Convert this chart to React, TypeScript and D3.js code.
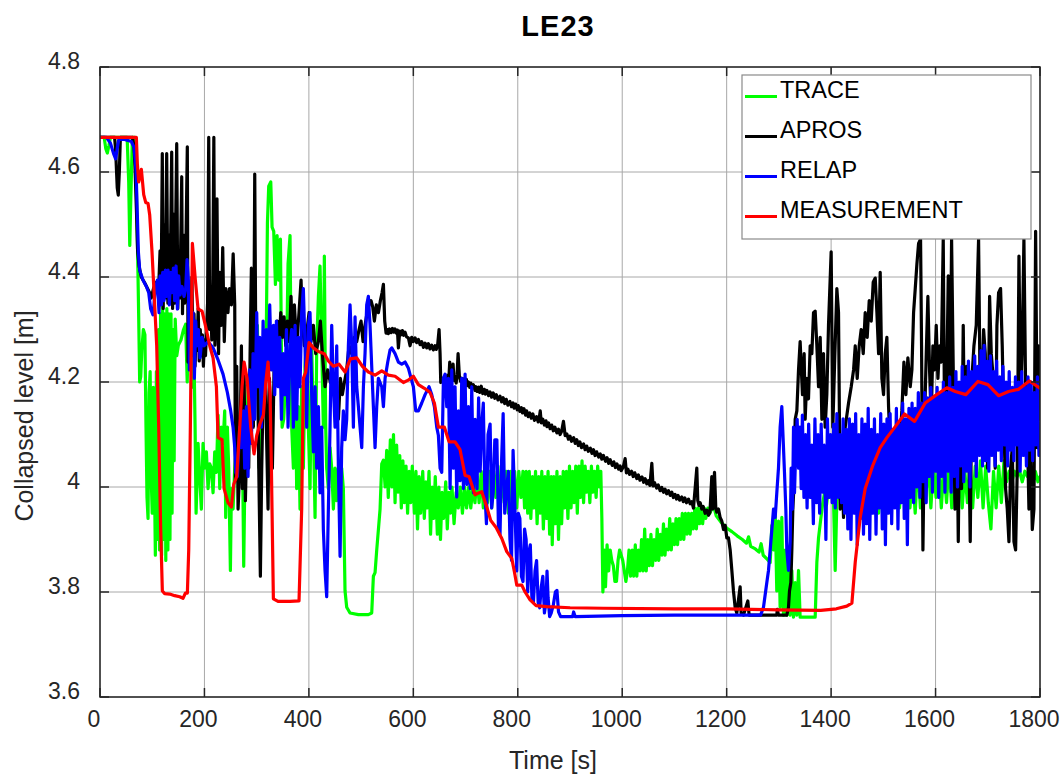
import React from 'react';
import * as d3 from 'd3';

type P = [number, number];

const W = 1062;
const H = 778;
const PLOT = { left: 100, right: 1040, top: 67, bottom: 697 };

const titleText = 'LE23';
const xLabelText = 'Time [s]';
const yLabelText = 'Collapsed level [m]';

const xDomain: [number, number] = [0, 1800];
const yDomain: [number, number] = [3.6, 4.8];
const xTicks = [0, 200, 400, 600, 800, 1000, 1200, 1400, 1600, 1800];
const xTickLabels = ['0', '200', '400', '600', '800', '1000', '1200', '1400', '1600', '1800'];
const yTicks = [3.6, 3.8, 4.0, 4.2, 4.4, 4.6, 4.8];
const yTickLabels = ['3.6', '3.8', '4', '4.2', '4.4', '4.6', '4.8'];

const seriesNames = ['TRACE', 'APROS', 'RELAP', 'MEASUREMENT'];
const seriesColors = ['#00ff00', '#000000', '#0000ff', '#ff0000'];

const trace: P[] = [
  [0,4.666],[8,4.666],[11,4.645],[14,4.636],[17,4.65],[20,4.666],[52,4.666],[55,4.58],[57,4.46],[59,4.55],[62,4.666],[67,4.666],[69,4.6],[72,4.45],[74,4.33],[76,4.2],[78,4.21],[80,4.26],[83,4.3],[86,4.29],[88,4.12],[90,3.98],[92,3.94],[94,4.18],[96,4.22],[98,4.02],[100,3.95],[102,4.19],[104,4.04],[106,3.87],[108,4.22],[110,3.9],[112,4.3],[114,3.88],[116,4.33],[118,3.87],[120,4.35],[122,3.9],[124,4.33],[126,3.86],[128,4.34],[130,3.88],[132,4.33],[134,3.9],[136,4.33],[138,3.95],[140,4.3],[142,4.05],[144,4.32],[147,4.25],[150,4.27],[155,4.28],[160,4.3],[164,4.31],[167,4.2],[170,4.31],[173,4.33],[176,4.19],[179,4.32],[182,4.12],[184,3.95],
  [187.8,4.083],[190.9,4.02],[194.1,3.958],[197.3,4.083],[200.5,4.036],[203.7,4.067],[206.9,3.997],[210.1,4.044],[213.3,4.036],[216.5,3.989],[219.7,4.067],[222.9,4.028],[226.1,4.137],[229.3,3.997],[232.4,4.114],[235.6,4.083],[238.8,4.145],[240.7,3.942],[243.9,4.114],[246.5,4.036],[249.7,3.841],[251.6,3.997],[254.8,3.958],[258,4.036],[261.2,4.075],[264.4,4.129],[269.5,4.036],[272,4.153],[275.2,3.849],[277.1,3.997],[280.3,4.075],[283.5,4.191],[286.7,4.114],[289.9,4.285],[293.1,4.269],[296.3,4.191],[301.4,4.308],[304.6,4.036],[309.1,4.176],[315.5,4.145],[318.6,4.308],[320.6,4.503],[323.1,4.573],[327,4.581],[329.5,4.495],[332.7,4.487],[335.9,4.386],[339.1,4.479],[342.3,4.394],[345.5,4.472],[348.7,4.114],[351.8,4.129],[355,4.191],[357.6,4.269],[360.1,4.425],[363.9,4.479],[367.1,4.114],[370.3,4.036],[373.5,4.269],[376.6,3.997],[379.8,4.153],[383,3.958],[386.2,4.191],[389.4,4.036],[392.6,4.23],[395.8,4.285],[399,4.114],[402.2,3.997],[405.4,4.269],[408.6,4.114],[411.8,3.942],[415,4.269],[418.2,4.363],[421.3,4.421],[424.5,4.269],[427.7,4.114],[429.6,4.44],[432.2,4.114],[434.1,4.036],[437.3,3.997],[440.5,4.075],[443.7,4.036],[446.9,3.958],[450.1,4.036],[453.3,3.974],[456.5,4.036],[459.7,3.958],[462.8,4.036],[466,3.997],[469.2,3.802],[472.4,3.771],[478.8,3.76],[494.8,3.757],[513.9,3.757],[520.3,3.76],[523.5,3.83],[526.7,3.837],[529.9,3.88],[533.1,3.919],[536.3,3.958],[539.5,4.044],[542.7,4.051],
  [546,4.0],[549,4.07],[552,3.98],[556,4.09],[559,4.0],[562,4.1],[565,3.97],[568,4.08],[571,3.99],[574,4.06],[577,3.96],[580,4.05],[583,3.97],[586,4.04],[589,3.95],[592,4.03],[595,3.97],[598,4.04],[602,3.95],[605,4.03],[608,3.92],[611,4.02],[614,3.95],[618,4.03],[621,3.94],[624,4.01],[627,3.96],[630,4.03],[633,3.91],[636,4.0],[639,3.94],[642,4.02],[646,3.91],[649,4.0],[652,3.9],[655,3.99],[658,3.94],[662,4.01],[665,3.92],[668,3.99],[671,3.95],[674,4.0],[678,3.93],[682,3.99],[686,3.96],[690,4.0],[694,3.95],[698,4.0],[702,3.96],[706,4.0],[710,3.96],[714,4.0],[718,3.97],[722,4.02],[726,3.97],[730,4.03],[734,3.96],[738,4.03],[742,3.97],[746,4.03],[750,3.96],[754,4.03],[758,3.98],[762,4.04],[766,3.96],[770,4.03],[774,3.97],[778,4.03],[782,3.95],[786,4.03],[790,3.97],[794,4.03],[798,3.96],[802,4.03],[806,3.98],
  [810,4.03],[813,3.96],[816,4.03],[819,3.95],[822,4.03],[825,3.94],[828,4.02],[831,3.96],[834,4.03],[837,3.93],[840,4.02],[843,3.95],[846,4.03],[849,3.92],[852,4.02],[855,3.94],[858,4.03],[861,3.91],[864,4.02],[866,3.89],[869,4.02],[872,3.93],[875,4.03],[878,3.9],[881,4.02],[884,3.93],[887,4.03],[890,3.96],[893,4.03],[896,3.94],[899,4.04],[902,3.96],[905,4.03],[908,3.97],[911,4.04],[914,3.95],[917,4.04],[920,3.98],[923,4.05],[926,3.97],[929,4.04],[932,3.99],[935,4.03],[938,3.97],[941,4.04],[944,3.99],[947,4.03],[950,3.98],[953,4.04],[956,4.0],[959,4.03],[961,3.94],[963,3.8],[966,3.88],[968,3.81],[971,3.89],[974,3.84],[977,3.88],[980,3.86],[983,3.85],[986,3.82],[989,3.82],[992,3.86],[995,3.88],[998,3.87],[1001,3.86],[1004,3.84],[1007,3.82],[1010,3.84],[1013,3.88],[1016,3.83],[1019,3.88],[1022,3.83],[1025,3.89],[1028,3.83],[1031,3.88],[1034,3.84],[1037,3.9],[1040,3.84],[1043,3.92],[1046,3.84],[1049,3.9],[1052,3.85],[1055,3.91],[1058,3.85],[1061,3.9],[1064,3.86],[1067,3.92],[1070,3.86],[1073,3.91],[1076,3.87],[1079,3.93],[1082,3.87],[1085,3.92],[1088,3.88],[1091,3.94],[1094,3.88],[1097,3.93],[1100,3.89],[1103,3.94],[1106,3.89],[1109,3.94],[1112,3.9],[1115,3.95],[1118,3.9],[1121,3.95],[1124,3.91],[1127,3.95],[1130,3.91],[1133,3.95],[1136,3.92],[1139,3.96],[1142,3.92],[1145,3.96],[1148,3.93],[1151,3.96],[1154,3.93],[1157,3.96],[1160,3.94],[1164,3.96],[1168,3.95],[1172,3.96],[1176,3.96],[1180,3.945],[1190,3.932],[1200,3.922],[1210,3.915],[1220,3.907],[1230,3.9],[1238,3.893],[1242,3.905],[1246,3.887],[1255,3.882],[1262,3.876],[1266,3.892],[1270,3.87],[1278,3.862],[1283.3,3.856],[1286.5,3.927],[1289.7,3.88],[1292.9,3.958],[1296,3.802],[1299.2,3.935],[1302.4,3.771],[1305.6,3.942],[1308.8,3.756],[1312,3.88],[1315.2,3.756],[1318.4,3.841],[1321.6,3.756],[1324.8,3.841],[1328,3.752],[1331.2,3.818],[1334.4,3.756],[1337.6,3.841],[1340.7,3.752],[1369.5,3.752],[1372.7,3.857],[1375.9,3.903],[1379.7,3.935],[1383.5,3.966],[1387.4,3.989],[1391.2,3.966],[1395,3.997],[1400.1,3.981],[1403.9,4.005],[1407.8,3.841],[1411,3.974],[1415.5,3.997],[1420.6,3.966],[1425.7,4.005],
  [1431,3.99],[1436,4.05],[1441,3.97],[1446,4.06],[1451,3.96],[1456,4.05],[1461,3.98],[1466,4.07],[1471,3.96],[1476,4.04],[1481,3.97],[1486,4.06],[1491,3.95],[1496,4.04],[1501,3.98],[1506,4.06],[1511,3.96],[1516,4.05],[1521,3.97],[1526,4.04],[1531,3.96],[1536,4.05],[1541,3.97],[1546,4.04],[1551,3.96],[1556,4.03],[1561,3.95],[1566,4.05],[1571,3.96],[1576,4.04],[1581,3.97],[1586,4.06],[1591,3.96],[1596,4.04],[1601,3.98],[1606,4.05],[1611,3.96],[1616,4.04],[1621,3.97],[1626,4.05],[1631,3.96],[1636,4.04],[1641,3.98],[1646,4.05],[1651,3.96],[1656,4.03],[1661,3.97],[1666,4.05],[1671,3.96],[1676,4.04],[1681,3.98],[1686,4.05],[1691,3.96],[1696,4.04],[1701,3.97],[1706,3.92],[1711,4.03],[1716,3.96],[1721,4.04],[1726,3.97],[1731,4.05],[1736,4.01],[1741,4.03],[1746,4.01],[1751,4.03],[1756,4.02],[1761,4.03],[1766,4.01],[1771,4.03],[1776,4.02],[1781,4.03],[1786,4.0],[1791,4.03],[1796,4.01],[1800,4.02],
];

const apros: P[] = [
  [0,4.666],[28,4.666],[30,4.64],[33,4.57],[35,4.556],[37,4.6],[39,4.666],[62,4.666],[65,4.65],[67,4.61],[70,4.52],[72,4.45],[75,4.42],[79,4.4],[85,4.39],[90,4.38],[95,4.37],[98,4.36],[103,4.38],[108,4.39],[112,4.37],[115,4.45],[117,4.36],[119.3,4.635],[121,4.34],[123,4.5],[125,4.36],[127.7,4.635],[130,4.35],[132,4.48],[134,4.36],[137.3,4.638],[139,4.34],[141,4.52],[143,4.35],[146.9,4.654],[149,4.34],[151,4.45],[153,4.36],[156.5,4.591],[158,4.33],[160,4.48],[162,4.35],[164,4.42],[167.2,4.648],[168.6,4.238],[170,4.3],[172,4.35],[174,4.26],[176,4.4],[178,4.25],[180,4.33],[182,4.23],[184,4.3],[186,4.26],[188,4.34],[190,4.24],[192,4.3],[194,4.25],[196,4.29],[198,4.23],[200,4.28],[202,4.25],[204,4.3],[206,4.35],[208.2,4.666],[210,4.3],[212,4.37],[214,4.28],[216,4.4],[218,4.666],[220,4.27],[222,4.35],[224,4.549],[226,4.3],[227,4.254],[229.3,4.409],[232,4.308],[235,4.456],[238,4.277],[241,4.378],[245,4.332],[248,4.378],[251.6,4.347],[255,4.444],[258,4.347],[259.3,4.012],[261.8,4.23],[264.4,3.958],[267.6,4.036],[270.8,4.269],[272.7,3.997],[275.9,4.223],[278.4,3.974],[281.6,4.114],[284.8,4.036],[287.4,4.254],[289.9,4.417],[291.8,4.191],[293.7,4.114],[296.3,4.596],[298.8,4.191],[301.4,4.269],[304,4.036],[307.1,3.83],[309.7,4.036],[312.3,4.176],[315.5,4.269],[318.6,4.114],[321.8,3.958],[324.4,4.207],[327,4.137],[330.1,4.036],[333.3,4.223],[336.5,4.285],[339.7,4.316],[342.9,4.269],[346.1,4.332],[349.3,4.285],[352.5,4.324],[355.7,4.269],[358.9,4.316],[362.1,4.277],[365.8,4.363],[369,4.254],[372.2,4.347],[376.6,4.269],[381.1,4.332],[385,4.394],[387.5,4.316],[391.3,4.269],[395.8,4.293],[400.3,4.332],[404.1,4.277],[408.6,4.308],[413,4.254],[418.2,4.277],[422,4.316],[425.8,4.254],[430.9,4.191],[436,4.223],[441.1,4.199],[446.2,4.207],[450.1,4.184],[453.9,4.153],[456.5,4.129],[460.3,4.207],[464.1,4.176],[468,4.199],[472.4,4.223],[476.9,4.269],[482,4.254],[487.1,4.285],[491.6,4.277],[496.1,4.3],[499.9,4.316],[503.7,4.277],[507.5,4.308],[511.4,4.332],[515.2,4.347],[519,4.355],[522.2,4.343],[525.4,4.316],[529.2,4.347],[533.1,4.332],[536.9,4.355],[540.1,4.37],[542.7,4.386],[545.2,4.316],
  [547.8,4.293],[550,4.3],[552.2,4.292],[554.5,4.301],[557.3,4.294],[560,4.302],[562.5,4.295],[565,4.301],[567.6,4.293],[569.5,4.299],[571.4,4.265],[574,4.297],[576.5,4.29],[579.1,4.298],[581.5,4.289],[584.2,4.295],[587,4.286],[590.6,4.284],[593.7,4.269],[596.9,4.285],[600,4.277],[603.3,4.284],[606.5,4.275],[609.7,4.281],[613,4.271],[616.1,4.277],[619.3,4.266],[622.5,4.274],[625.7,4.265],[628.9,4.273],[632,4.263],[635.2,4.27],[638.4,4.261],[641.6,4.269],[644,4.262],[646.7,4.272],[649.3,4.3],[651.2,4.254],[652.5,4.199],
  [655.7,4.207],[658,4.199],[660.8,4.208],[663,4.2],[665.9,4.213],[668,4.205],[669.7,4.238],[672.3,4.199],[674,4.209],[676.1,4.234],[678,4.203],[679.9,4.209],[682,4.198],[683.8,4.215],[685.7,4.254],[688.2,4.211],[690.5,4.201],[692.7,4.207],[695,4.197],[697,4.206],[699.1,4.198],[701.5,4.205],[703.5,4.193],[705.5,4.2],[708,4.19],[710,4.198],[712,4.188],[715,4.195],[718,4.184],[720,4.191],[722,4.182],[725,4.19],[727,4.18],[730,4.192],[733,4.178],[736,4.186],[738,4.177],[741,4.184],[744,4.174],[747,4.181],[750,4.171],[753,4.179],[756,4.169],[759,4.176],[762,4.166],[766,4.173],[769,4.162],[772,4.17],[775,4.159],[778,4.167],[781,4.156],[785,4.163],[788,4.153],[791,4.16],[793,4.15],[796,4.158],[799,4.147],[801,4.155],[804,4.144],[807,4.151],[809,4.141],[812,4.149],[815,4.137],[817,4.145],[820,4.134],[823,4.141],[826,4.131],[829,4.139],[832,4.127],[836,4.134],[839,4.124],[841,4.131],[843,4.145],[845,4.122],[848,4.129],[851,4.118],[854,4.126],[856,4.115],[859,4.122],[862,4.111],[865,4.118],[868,4.107],[871,4.114],[875,4.103],[878,4.11],[881,4.1],[884,4.106],[887.5,4.125],[890.7,4.098],[894,4.101],[897,4.091],[900,4.097],[903,4.087],[907,4.094],[910,4.083],[913,4.09],[916,4.079],[919,4.086],[922,4.075],[926,4.082],[929,4.071],[932,4.078],[935,4.068],[939,4.074],[942,4.064],[945,4.071],[948,4.06],[951,4.067],[955,4.057],[958,4.063],[961,4.053],[964,4.06],[968,4.049],[971,4.056],[974,4.045],[977,4.052],[981,4.041],[984,4.048],[987,4.037],[990,4.044],[993,4.034],[996,4.04],[998,4.031],[1002,4.038],[1005.6,4.054],[1008,4.027],[1011,4.034],[1014,4.024],[1018,4.03],[1021,4.02],[1024,4.027],[1028,4.016],[1031,4.023],[1034,4.013],[1038,4.019],[1041,4.009],[1044,4.016],[1047,4.006],[1050,4.012],[1053,4.003],[1056.7,4.045],[1059,4.002],[1062,4.008],[1066,3.998],[1069,4.004],[1072.6,3.993],[1075.8,3.999],[1079,3.99],[1082,3.996],[1085,3.987],[1088.5,3.993],[1092,3.984],[1095,3.99],[1098,3.98],[1101.3,3.986],[1104,3.977],[1107,3.984],[1110,3.975],[1114.1,3.981],[1117,3.972],[1120,3.979],[1123,3.97],[1126.9,3.977],[1130,3.968],[1133.2,3.972],[1136.4,3.96],[1139.6,3.997],[1142.8,4.036],[1144.7,3.974],[1147,3.965],[1149.2,3.97],[1152.4,3.958],[1155,3.963],[1158.8,3.95],[1162,3.956],[1165.2,3.946],[1168,3.952],[1171.5,4.02],[1173.5,3.958],[1176.7,4.028],[1179.2,3.96],[1181,3.952],[1184.3,3.958],[1187.5,3.942],[1190.7,3.935],[1193.9,3.919],[1197.1,3.927],[1200.3,3.903],[1203.5,3.903],[1206.7,3.88],[1209.9,3.841],[1213,3.802],[1216.2,3.771],[1219.4,3.76],[1225.8,3.81],[1227.7,3.76],[1232.2,3.756],[1240.5,3.783],[1243,3.756],[1296,3.756],[1297,3.767],[1299.2,3.756],[1315.2,3.756],[1318.4,3.771],[1320.3,3.802],[1322.9,3.818],[1324.8,3.88],[1326.7,3.958],[1328.6,3.997],[1331.2,4.129],[1334.4,4.145],[1337.6,4.223],[1340.7,4.277],[1342.7,4.23],[1345.2,4.176],[1348.4,4.254],[1350.3,4.129],[1353.5,4.207],[1356.7,4.168],[1359.9,4.269],[1363.1,4.254],[1366.3,4.332],[1369.5,4.335],[1372.7,4.269],[1375.9,4.191],[1379.1,4.285],[1382.3,4.129],[1385.4,4.254],[1388.6,4.114],[1391.8,4.176],[1395,4.308],[1400.1,4.448],[1403.3,4.114],[1406.5,4.23],[1411,4.378],[1414.2,4.332],[1417.4,3.958],[1420.6,4.036],[1423.8,3.942],[1427,4.114],
  [1433.4,4.16],[1438.5,4.191],[1443,4.223],[1446.2,4.269],[1450,4.207],[1453.8,4.269],[1457.6,4.3],[1461.5,4.254],[1465.3,4.332],[1469.1,4.285],[1473,4.355],[1476.8,4.316],[1480.6,4.39],[1484.5,4.398],[1487.7,4.332],[1490.9,4.254],[1494,4.409],[1497.2,4.207],[1500.4,4.176],[1503.6,4.254],[1506.8,4.285],[1510,4.153],[1515.1,4.036],[1520.2,3.997],[1525.3,4.036],[1530.4,4.075],[1535.5,4.145],[1539.4,4.238],[1543.2,4.176],[1547,4.246],[1551.5,4.191],[1554.7,4.223],[1557.9,4.332],[1561.1,4.378],[1564.3,4.425],[1567.5,4.464],[1571.3,4.472],[1573.2,4.269],[1575.8,3.88],[1579,4.129],[1582.2,4.254],[1585.3,4.363],[1588.5,4.223],[1591.7,4.129],[1594.9,4.269],[1598.1,4.223],[1601.3,4.308],[1604.5,4.207],[1607.7,4.269],[1610.9,4.238],[1614.7,4.472],[1617.9,4.036],[1621.1,4.176],[1624.3,4.402],[1627.5,4.114],[1630.7,4.472],[1633.9,4.223],[1637.1,3.958],[1640.3,4.191],[1643.5,3.896],[1646.6,4.191],[1649.8,3.997],[1653,4.308],[1656.2,4.036],[1659.4,4.23],[1663.2,4.114],[1666.4,3.896],[1669.6,4.207],[1673.5,4.269],[1677.9,4.308],[1682.4,4.472],[1685.6,4.153],[1688.8,4.191],[1692,4.3],[1695.2,4.254],[1699.6,4.036],[1703.5,4.363],[1706.7,4.254],[1710.5,4.207],[1714.3,4.036],[1717.5,4.308],[1720.7,4.37],[1724.5,4.378],[1727.7,4.269],[1730.9,4.114],[1734.1,3.997],[1737.3,3.958],[1740.5,3.896],[1743.7,4.036],[1746.9,4.075],[1750.1,3.896],[1753.3,3.88],[1756.5,4.036],[1759.7,4.44],[1762.9,4.153],[1766,4.269],[1769.2,4.472],[1772.4,4.191],[1775.6,4.114],[1778.8,3.958],[1782,4.075],[1785.2,3.919],[1788.4,3.958],[1791.6,4.487],[1794.8,4.075],[1797.3,4.269],[1800,4.129],
];

const relap: P[] = [
  [0,4.666],[12,4.666],[20,4.655],[26,4.635],[30,4.625],[33,4.645],[36,4.662],[47.3,4.662],[60,4.658],[65.2,4.647],[69,4.604],[71.5,4.518],[73.5,4.448],[76,4.413],[82.4,4.394],[88.8,4.382],[93.3,4.37],[97.1,4.339],[101.5,4.328],[106,4.378],[109.9,4.394],[113,4.332],[115,4.402],[117.5,4.347],[120.1,4.409],[122.6,4.355],[125.2,4.413],[127.7,4.363],[130.3,4.413],[132.8,4.347],[135.4,4.409],[137.9,4.37],[140.5,4.417],[143,4.355],[145.6,4.421],[148.2,4.339],[150.7,4.402],[153.3,4.366],[157.1,4.382],[161,4.363],[164.1,4.378],[166.7,4.433],[169.2,4.394],[171.1,4.223],[173.1,4.316],[175.6,4.269],[178.2,4.332],[180.7,4.207],[183.3,4.316],[185.8,4.269],[188.4,4.3],[191.6,4.246],[195.4,4.285],[199.2,4.269],[206.9,4.277],[216.5,4.265],[226.1,4.242],[235.6,4.215],[243.9,4.18],[250.3,4.145],[254.8,4.114],[258,4.075],[260,4.028],[263.1,4.02],[267.6,4.114],[270.8,4.075],[274.6,4.145],[277.1,4.036],[280.3,4.153],[283.5,4.02],[286.7,4.223],[289.9,4.083],[293.1,4.254],[296.3,4.129],[300.1,4.332],[302.7,4.191],[305.9,4.285],[309.1,4.114],[312.3,4.316],[315.5,4.176],[318.6,4.3],[321.8,4.223],[325,4.347],[328.2,4.223],[332.1,4.308],[334.6,4.176],[337.8,4.316],[341,4.191],[344.2,4.285],[347.4,4.129],[350.6,4.254],[353.8,4.176],[357,4.3],[360.1,4.114],[364,4.269],[367.1,4.3],[370.3,4.114],[373.5,4.308],[376.6,4.129],[379.8,4.285],[383,4.191],[386.2,4.332],[389.4,4.378],[392.6,4.269],[395.8,4.114],[399,4.308],[402.2,4.332],[405.4,4.176],[408.6,4.067],[411.8,4.191],[415,4.036],[418.2,4.153],[421.3,3.989],[424.5,4.114],[427.7,3.919],[430.9,3.841],[434.1,3.791],[437.3,3.958],[440.5,4.114],[443.7,4.308],[446.9,4.191],[450.1,4.114],[453.3,4.269],[456.5,4.036],[459.7,3.868],[462.8,4.075],[466,4.145],[469.2,4.09],[472.4,4.129],[475.6,4.269],[478.8,4.347],[482,4.269],[485.2,4.114],[488.4,4.324],[491.6,4.191],[494.8,4.153],[498,4.114],[501.2,4.075],[504.4,4.191],[507.5,4.254],[510.7,4.347],[513.9,4.363],[517.1,4.308],[520.3,4.23],[523.5,4.153],[526.7,4.075],[529.9,4.153],[533.1,4.207],[539.5,4.191],[542.7,4.153],[545.9,4.207],[551,4.238],[555.4,4.261],[558.6,4.265],[565,4.254],[571.4,4.238],[577.8,4.234],[584.2,4.238],[590.6,4.226],[595.7,4.207],[600.1,4.191],[604.6,4.145],[609.7,4.145],[616.1,4.16],[622.5,4.176],[630.1,4.191],[635.2,4.176],[640.3,4.153],[644.8,4.114],[648,4.098],[651.2,4.036],[654.4,4.028],[657.6,4.207],[660.8,4.215],[664,4.153],[667.2,4.207],[670.4,3.997],[673.6,4.223],[676.7,4.036],[679.9,4.191],[683.1,3.981],[686.3,4.145],[689.5,4.012],[692.7,4.207],[695.9,3.997],[699.1,4.215],[702.3,4.005],[705.5,4.153],[708.7,3.997],[711.9,4.191],[715.1,3.989],[718.3,4.129],[722,3.997],
  [725,4.17],[728,4.03],[731,4.12],[734,4.16],[737,3.99],[740,3.93],[743,4.1],[747,4.12],[750,3.96],[753,3.99],[756,4.09],[760,4.09],[763,3.92],[766,3.91],[769,4.05],[772,4.14],[775,3.95],[779,4.0],[782,4.03],[785,3.9],[788,3.86],[791,4.07],[794,3.98],[798,3.84],[801,3.95],[804,3.94],[807,3.83],[810,3.82],[813,3.92],[816,3.9],[819,3.8],[822,3.88],[824,3.89],[827,3.79],[830,3.78],[833,3.84],[836,3.86],[839,3.78],[842,3.77],[845,3.81],[848,3.83],[851,3.76],[854,3.78],[856,3.84],[858,3.79],[861,3.753],[864,3.76],[868,3.775],[872,3.8],[875,3.803],[878,3.762],[882,3.753],[905,3.753],[907,3.762],[910,3.753],[1000,3.755],[1100,3.756],[1265,3.756],[1270.5,3.771],[1276.9,3.818],[1280.1,3.841],[1283.3,3.88],[1286.5,3.919],[1289.7,3.958],[1292.9,3.942],[1296,3.989],[1299.2,4.036],[1302.4,4.114],[1305.6,4.153],[1308.8,4.075],[1310.7,4.028],[1313.3,3.958],[1315.2,3.88],[1318.4,3.841],[1321.6,3.896],[1323.5,4.036],[1326.1,3.958],[1328,4.114],[1329.9,3.989],[1332.4,4.075],[1335,4.129],[1337.6,4.036],[1340.1,4.114],[1342.7,3.997],
  [1345,4.137],[1348,3.98],[1351,4.1],[1354,3.96],[1357,4.12],[1360,3.98],[1363,4.08],[1366,3.93],[1369,4.13],[1372,3.97],[1375,4.1],[1378,3.95],[1381,4.12],[1384,3.99],[1387,4.08],[1390,3.9],[1393,4.13],[1396,3.98],[1399,4.1],[1402,3.97],[1405,4.12],[1408,3.96],[1411,4.14],[1414,3.98],[1417,4.1],[1420,3.97],[1423,4.13],[1426,3.95],[1429,4.11],[1432,3.92],[1435,4.13],[1438,3.9],[1441,4.12],[1444,3.95],[1447,4.14],[1450,3.89],[1453,4.1],[1456,3.94],[1459,4.13],[1462,3.91],[1465,4.12],[1468,3.93],[1471,4.15],[1474,3.9],[1477,4.11],[1480,3.95],[1483,4.13],[1486,3.91],[1489,4.1],[1492,3.96],[1495,4.14],[1498,3.92],[1501,4.12],[1504,3.89],[1507,4.13],[1510,3.95],[1513,4.14],[1516,3.93],[1519,4.11],[1522,3.96],[1525,4.15],[1528,3.92],[1531,4.12],[1534,3.97],[1537,4.16],[1540,3.94],[1543,4.13],[1546,3.89],[1549,4.15],[1552,3.98],[1555,4.16],[1558,3.97],[1561,4.15],[1564,4.0],[1567,4.18],[1570,3.98],[1573,4.16],[1576,4.01],[1579,4.18],[1582,3.97],[1585,4.17],[1588,4.02],[1591,4.19],[1594,3.99],[1597,4.17],[1600,4.03],[1603,4.19],[1606,3.98],[1609,4.18],[1612,4.02],[1615,4.2],[1618,3.99],[1621,4.18],[1624,4.03],[1627,4.21],[1630,3.99],[1633,4.19],[1636,4.02],[1639,4.22],[1642,4.0],[1645,4.2],[1648,4.04],[1651,4.23],[1654,4.01],[1657,4.21],[1660,4.03],[1663,4.24],[1666,4.0],[1669,4.22],[1672,4.05],[1675,4.25],[1678,4.02],[1681,4.23],[1684,4.06],[1687,4.26],[1690,4.04],[1693,4.27],[1696,4.05],[1699,4.24],[1702,4.03],[1705,4.25],[1708,4.06],[1711,4.22],[1714,4.04],[1717,4.24],[1720,4.07],[1723,4.21],[1726,4.05],[1729,4.23],[1732,4.08],[1735,4.2],[1738,4.04],[1741,4.22],[1744,4.07],[1747,4.19],[1750,4.05],[1753,4.21],[1756,4.08],[1759,4.2],[1762,4.03],[1765,4.22],[1768,4.06],[1771,4.19],[1774,4.04],[1777,4.21],[1780,4.07],[1783,4.2],[1786,4.05],[1789,4.18],[1792,4.08],[1795,4.21],[1798,4.06],[1800,4.12],
];

const measurement: P[] = [
  [0,4.666],[69.6,4.666],[71.5,4.616],[74.1,4.581],[79.2,4.605],[83.7,4.557],[87.5,4.542],[92,4.54],[95.2,4.518],[99.6,4.448],[104.7,4.347],[108.6,4.269],[112.4,4.114],[116.2,3.919],[119.4,3.802],[123.9,3.797],[133.5,3.796],[143,3.793],[152.6,3.791],[159,3.788],[163.5,3.798],[167.3,3.798],[169.9,3.88],[173,4.114],[176.9,4.464],[182.6,4.394],[187.8,4.339],[195.4,4.335],[201.8,4.308],[210.1,4.269],[216.5,4.246],[222.9,4.191],[226.1,4.094],[233.7,4.09],[237.6,3.997],[245.2,3.97],[251.6,3.962],[256.1,4.005],[261.8,4.02],[267.6,4.114],[272,4.191],[275.9,4.238],[281.6,4.207],[288.6,4.114],[295,4.063],[300.1,4.098],[306.5,4.121],[312.9,4.137],[317.4,4.199],[321.8,4.238],[325.7,4.176],[328.2,4.036],[332,3.787],[341,3.782],[364,3.782],[381.1,3.783],[386.2,3.958],[389.4,4.207],[393.9,4.219],[400.3,4.275],[408.6,4.265],[418.2,4.258],[429.6,4.254],[437.3,4.24],[446.9,4.23],[457.7,4.234],[469.2,4.219],[479.4,4.244],[491.6,4.246],[502.4,4.23],[513.9,4.219],[526.7,4.213],[539.5,4.221],[552.2,4.213],[565,4.211],[581,4.199],[589.3,4.203],[600.1,4.211],[609.7,4.195],[621.2,4.188],[632,4.18],[640.3,4.16],[648,4.114],[659.5,4.114],[668.4,4.086],[679.9,4.086],[689.5,4.071],[699.1,4.022],[706.8,4.02],[718.2,3.985],[721.5,3.987],[731,3.991],[740.6,3.962],[748.3,3.936],[758.5,3.923],[769.4,3.902],[778.9,3.877],[788.5,3.864],[793.6,3.838],[798.1,3.813],[807.7,3.813],[814,3.8],[823.6,3.785],[835.1,3.774],[855.6,3.772],[900.2,3.77],[964.1,3.769],[1100,3.768],[1200,3.768],[1300,3.766],[1380,3.765],[1410,3.768],[1430,3.773],[1439.8,3.779],[1446.2,3.857],[1455.7,3.942],[1465.3,3.997],[1479.4,4.04],[1494,4.075],[1506.8,4.094],[1522.8,4.115],[1540.7,4.139],[1559.8,4.125],[1580.2,4.16],[1599.4,4.174],[1621.7,4.189],[1637.7,4.182],[1658.1,4.176],[1681.1,4.201],[1700.3,4.195],[1720.7,4.174],[1739.9,4.182],[1759,4.186],[1779.5,4.202],[1800,4.188],
];

const seriesData: P[][] = [trace, apros, relap, measurement];

const FONT = '"Liberation Sans", Arial, Helvetica, sans-serif';
const AXIS_COLOR = '#262626';
const GRID_COLOR = '#a8a8a8';

export default function App() {
  const x = d3.scaleLinear().domain(xDomain).range([PLOT.left, PLOT.right]);
  const y = d3.scaleLinear().domain(yDomain).range([PLOT.bottom, PLOT.top]);
  const line = d3
    .line<P>()
    .x((d) => x(d[0]))
    .y((d) => y(d[1]));

  const tickLen = 9;
  const legend = { x: 742, y: 75, w: 289, h: 164, row: 40, firstBase: 98 };

  return (
    <svg
      width={W}
      height={H}
      viewBox={`0 0 ${W} ${H}`}
      style={{ position: 'absolute', left: 0, top: 0, background: '#fff' }}
      fontFamily={FONT}
    >
      <defs>
        <clipPath id="plotClip">
          <rect x={PLOT.left} y={PLOT.top} width={PLOT.right - PLOT.left} height={PLOT.bottom - PLOT.top} />
        </clipPath>
      </defs>
      <rect x={0} y={0} width={W} height={H} fill="#ffffff" />
      <rect x={PLOT.left} y={PLOT.top} width={PLOT.right - PLOT.left} height={PLOT.bottom - PLOT.top} fill="#ffffff" />

      <g stroke={GRID_COLOR} strokeWidth={1}>
        {xTicks.map((t) => (
          <line key={'gx' + t} x1={x(t)} x2={x(t)} y1={PLOT.top} y2={PLOT.bottom} />
        ))}
        {yTicks.map((t) => (
          <line key={'gy' + t} x1={PLOT.left} x2={PLOT.right} y1={y(t)} y2={y(t)} />
        ))}
      </g>

      <g clipPath="url(#plotClip)" fill="none" strokeWidth={3.2} strokeLinejoin="round" strokeLinecap="round">
        {seriesData.map((s, i) => (
          <path key={seriesNames[i]} d={line(s) || ''} stroke={seriesColors[i]} />
        ))}
      </g>

      <g stroke={AXIS_COLOR} strokeWidth={1.5} fill="none">
        <rect x={PLOT.left} y={PLOT.top} width={PLOT.right - PLOT.left} height={PLOT.bottom - PLOT.top} />
        {xTicks.map((t) => (
          <g key={'tx' + t}>
            <line x1={x(t)} x2={x(t)} y1={PLOT.bottom} y2={PLOT.bottom - tickLen} />
            <line x1={x(t)} x2={x(t)} y1={PLOT.top} y2={PLOT.top + tickLen} />
          </g>
        ))}
        {yTicks.map((t) => (
          <g key={'ty' + t}>
            <line x1={PLOT.left} x2={PLOT.left + tickLen} y1={y(t)} y2={y(t)} />
            <line x1={PLOT.right} x2={PLOT.right - tickLen} y1={y(t)} y2={y(t)} />
          </g>
        ))}
      </g>

      <g fill={AXIS_COLOR} fontSize={23}>
        {xTicks.map((t, i) => (
          <text key={'lx' + t} x={x(t) - 6} y={PLOT.bottom + 30} textAnchor="middle">
            {xTickLabels[i]}
          </text>
        ))}
        {yTicks.map((t, i) => (
          <text key={'ly' + t} x={80} y={y(t) + 2} textAnchor="end">
            {yTickLabels[i]}
          </text>
        ))}
      </g>

      <text x={553} y={769} textAnchor="middle" fontSize={25} fill={AXIS_COLOR}>
        {xLabelText}
      </text>
      <text transform={`translate(33, 416) rotate(-90)`} textAnchor="middle" fontSize={25} fill={AXIS_COLOR}>
        {yLabelText}
      </text>
      <text x={558} y={36} textAnchor="middle" fontSize={29} fontWeight="bold" fill="#000" letterSpacing={1}>
        {titleText}
      </text>

      <g>
        <rect x={legend.x} y={legend.y} width={legend.w} height={legend.h} fill="#ffffff" stroke="#8a8a8a" strokeWidth={1.2} />
        {seriesNames.map((name, i) => {
          const base = legend.firstBase + i * legend.row;
          return (
            <g key={'lg' + name}>
              <line x1={745} x2={777} y1={base - 1.5} y2={base - 1.5} stroke={seriesColors[i]} strokeWidth={3} />
              <text x={780} y={base} fontSize={23.5} fill="#000">
                {name}
              </text>
            </g>
          );
        })}
      </g>
    </svg>
  );
}
